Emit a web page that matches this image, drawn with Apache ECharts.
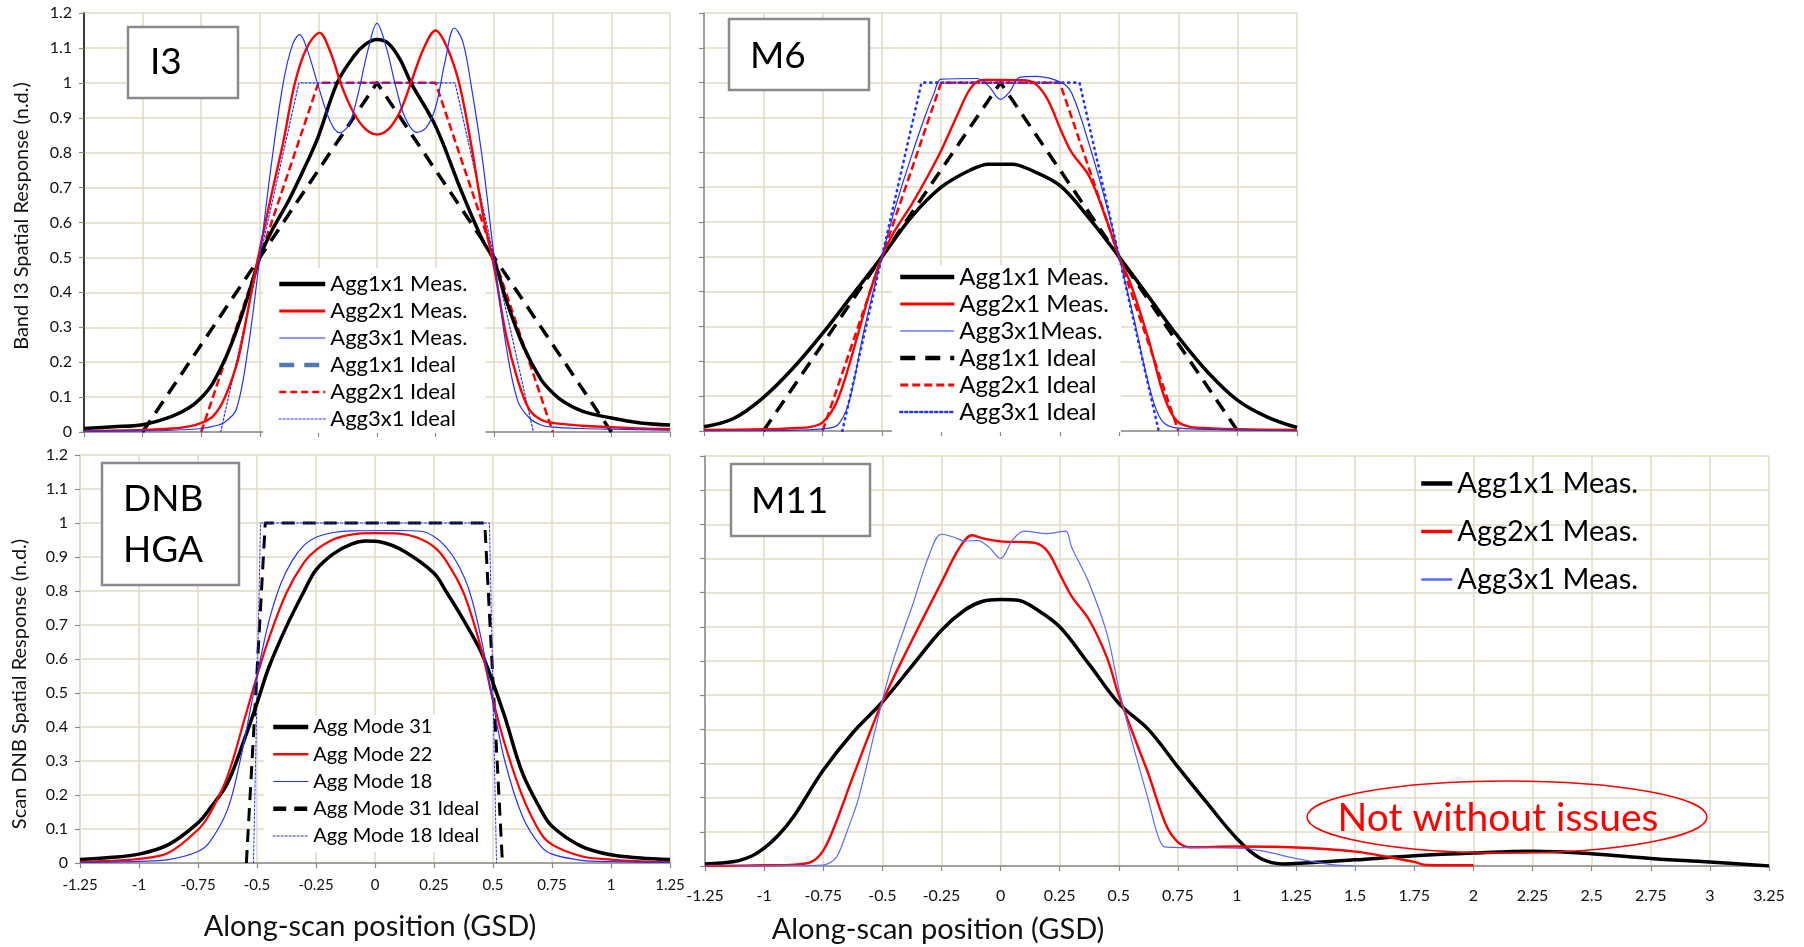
<!DOCTYPE html>
<html>
<head>
<meta charset="utf-8">
<title>Spatial response by aggregation mode</title>
<script src="https://cdn.jsdelivr.net/npm/echarts@6/dist/echarts.min.js"></script>
<style>
  html, body { margin: 0; padding: 0; background: #ffffff; }
  #chart { width: 1804px; height: 947px; }
</style>
</head>
<body>
<div id="chart"></div>
<script>
// ---- Axis ranges and ticks -------------------------------------------------
const X_MIN = -1.25, X_MAX = 1.25, X_MAX_M11 = 3.25, X_STEP = 0.25;
const Y_MIN = 0, Y_MAX = 1.2, Y_STEP = 0.1;

// ---- Panel texts -----------------------------------------------------------
const panelTags = ['I3', 'M6', 'DNB\nHGA', 'M11'];
const xTitle = 'Along-scan position (GSD)';
const yTitleI3 = 'Band I3 Spatial Response (n.d.)';
const yTitleDNB = 'Scan DNB Spatial Response (n.d.)';
const noteText = 'Not without issues';

// ---- Band I3: [position (GSD), response] -----------------------------------
const i3Agg1Meas = [[-1.25,0.01],[-1.125,0.015],[-1.0,0.021],[-0.875,0.045],[-0.8,0.07],[-0.75,0.098],[-0.7,0.14],[-0.625,0.245],[-0.55,0.39],[-0.5,0.5],[-0.45,0.575],[-0.375,0.665],[-0.3,0.77],[-0.25,0.847],[-0.17,1.0],[-0.1,1.075],[-0.05,1.11],[0,1.124],[0.05,1.112],[0.1,1.065],[0.145,1.0],[0.25,0.876],[0.36,0.69],[0.45,0.55],[0.5,0.49],[0.55,0.38],[0.625,0.245],[0.7,0.15],[0.75,0.112],[0.8,0.085],[0.875,0.06],[1.0,0.04],[1.125,0.026],[1.25,0.02]];
const i3Agg2Meas = [[-1.25,0.003],[-1.0,0.006],[-0.875,0.01],[-0.8,0.016],[-0.75,0.026],[-0.7,0.045],[-0.655,0.09],[-0.6,0.19],[-0.57,0.28],[-0.516,0.47],[-0.45,0.68],[-0.4,0.83],[-0.35,1.0],[-0.3,1.1],[-0.245,1.143],[-0.2,1.09],[-0.15,0.99],[-0.1,0.915],[-0.05,0.868],[0,0.852],[0.05,0.868],[0.1,0.92],[0.15,1.01],[0.2,1.1],[0.25,1.15],[0.3,1.1],[0.35,1.0],[0.4,0.83],[0.45,0.63],[0.5,0.47],[0.55,0.28],[0.6,0.15],[0.65,0.064],[0.7,0.035],[0.75,0.026],[0.875,0.018],[1.0,0.014],[1.125,0.01],[1.25,0.008]];
const i3Agg3Meas = [[-1.25,0.002],[-1.0,0.003],[-0.875,0.005],[-0.75,0.01],[-0.7,0.016],[-0.65,0.028],[-0.6,0.065],[-0.55,0.24],[-0.5,0.5],[-0.45,0.77],[-0.4,1.0],[-0.36,1.11],[-0.33,1.138],[-0.3,1.1],[-0.25,0.99],[-0.2,0.89],[-0.16,0.857],[-0.12,0.88],[-0.08,0.97],[-0.04,1.09],[0,1.17],[0.04,1.1],[0.08,0.99],[0.12,0.9],[0.17,0.858],[0.21,0.872],[0.25,0.93],[0.29,1.06],[0.33,1.157],[0.365,1.12],[0.4,1.0],[0.45,0.78],[0.5,0.5],[0.55,0.25],[0.6,0.09],[0.65,0.04],[0.7,0.02],[0.75,0.014],[0.875,0.01],[1.0,0.008],[1.25,0.005]];
const agg1Ideal = [[-1.0,0],[0,1],[1.0,0]];
const agg2Ideal = [[-0.75,0],[-0.25,1],[0.25,1],[0.75,0]];
const agg3Ideal = [[-0.667,0],[-0.333,1],[0.333,1],[0.667,0]];

// ---- Band M6 ---------------------------------------------------------------
const m6Agg1Meas = [[-1.25,0.012],[-1.125,0.036],[-1.0,0.096],[-0.875,0.18],[-0.75,0.28],[-0.625,0.39],[-0.5,0.5],[-0.375,0.615],[-0.25,0.7],[-0.125,0.75],[-0.05,0.766],[0.05,0.766],[0.125,0.75],[0.25,0.705],[0.375,0.61],[0.5,0.5],[0.625,0.385],[0.75,0.27],[0.875,0.168],[1.0,0.088],[1.125,0.04],[1.25,0.01]];
const m6Agg2Meas = [[-1.25,0.003],[-1.0,0.005],[-0.875,0.008],[-0.8,0.012],[-0.75,0.025],[-0.7,0.07],[-0.66,0.14],[-0.6,0.28],[-0.55,0.4],[-0.5,0.5],[-0.45,0.57],[-0.375,0.65],[-0.3,0.74],[-0.25,0.805],[-0.18,0.91],[-0.125,0.985],[-0.075,1.008],[0,1.008],[0.1,1.007],[0.15,0.995],[0.2,0.95],[0.257,0.86],[0.3,0.8],[0.375,0.73],[0.45,0.6],[0.5,0.5],[0.55,0.42],[0.625,0.26],[0.68,0.12],[0.715,0.058],[0.75,0.025],[0.8,0.012],[0.875,0.008],[1.0,0.005],[1.25,0.003]];
const m6Agg3Meas = [[-1.25,0.0],[-0.875,0.002],[-0.75,0.006],[-0.7,0.012],[-0.68,0.022],[-0.65,0.06],[-0.625,0.12],[-0.575,0.29],[-0.5,0.5],[-0.44,0.65],[-0.375,0.79],[-0.32,0.9],[-0.28,0.97],[-0.25,1.01],[-0.1,1.012],[-0.05,0.99],[0,0.952],[0.04,0.975],[0.08,1.015],[0.15,1.018],[0.257,1.0],[0.3,0.97],[0.375,0.82],[0.45,0.64],[0.5,0.5],[0.56,0.33],[0.63,0.12],[0.68,0.03],[0.75,0.008],[1.0,0.003],[1.25,0.0]];

// ---- DNB HGA ---------------------------------------------------------------
const dnbMode31 = [[-1.25,0.01],[-1.125,0.016],[-1.0,0.026],[-0.875,0.054],[-0.75,0.118],[-0.7,0.16],[-0.625,0.235],[-0.55,0.37],[-0.5,0.47],[-0.45,0.575],[-0.375,0.696],[-0.3,0.8],[-0.25,0.862],[-0.175,0.91],[-0.1,0.938],[-0.04,0.947],[0.025,0.944],[0.125,0.916],[0.25,0.852],[0.3,0.8],[0.375,0.715],[0.45,0.62],[0.5,0.53],[0.55,0.43],[0.625,0.264],[0.7,0.16],[0.75,0.108],[0.875,0.049],[1.0,0.024],[1.125,0.015],[1.25,0.01]];
const dnbMode22 = [[-1.25,0.003],[-1.125,0.006],[-1.0,0.012],[-0.875,0.03],[-0.75,0.098],[-0.7,0.145],[-0.625,0.255],[-0.55,0.43],[-0.5,0.55],[-0.45,0.66],[-0.375,0.795],[-0.3,0.885],[-0.25,0.92],[-0.175,0.952],[-0.1,0.966],[0,0.97],[0.1,0.969],[0.175,0.958],[0.25,0.93],[0.3,0.89],[0.375,0.795],[0.45,0.63],[0.5,0.48],[0.55,0.35],[0.625,0.196],[0.7,0.09],[0.75,0.054],[0.875,0.02],[1.0,0.01],[1.125,0.005],[1.25,0.003]];
const dnbMode18 = [[-1.25,0.002],[-1.0,0.005],[-0.875,0.01],[-0.75,0.034],[-0.7,0.062],[-0.625,0.157],[-0.575,0.29],[-0.5,0.55],[-0.45,0.71],[-0.4,0.82],[-0.35,0.89],[-0.3,0.935],[-0.25,0.958],[-0.175,0.972],[-0.1,0.977],[0.1,0.978],[0.2,0.975],[0.25,0.96],[0.3,0.93],[0.35,0.88],[0.4,0.8],[0.45,0.66],[0.5,0.47],[0.55,0.3],[0.625,0.137],[0.7,0.052],[0.75,0.026],[0.875,0.008],[1.0,0.004],[1.25,0.002]];
const dnbMode31Ideal = [[-0.545,0],[-0.465,1],[0.465,1],[0.54,0]];
const dnbMode18Ideal = [[-0.515,0],[-0.485,1],[0.485,1],[0.515,0]];

// ---- Band M11 --------------------------------------------------------------
const m11Agg1Meas = [[-1.25,0.006],[-1.125,0.013],[-1.05,0.03],[-1.0,0.052],[-0.94,0.09],[-0.875,0.145],[-0.75,0.28],[-0.625,0.39],[-0.5,0.48],[-0.375,0.585],[-0.25,0.69],[-0.15,0.75],[-0.075,0.775],[0,0.78],[0.075,0.778],[0.15,0.752],[0.25,0.7],[0.375,0.59],[0.5,0.476],[0.625,0.4],[0.75,0.29],[0.875,0.183],[1.0,0.08],[1.1,0.022],[1.2,0.006],[1.25,0.007],[1.5,0.018],[1.75,0.03],[2.0,0.038],[2.25,0.043],[2.5,0.036],[2.75,0.022],[3.0,0.012],[3.25,0.0]];
const m11Agg2Meas = [[-1.25,0.0],[-1.0,0.002],[-0.875,0.004],[-0.8,0.012],[-0.75,0.045],[-0.7,0.12],[-0.625,0.26],[-0.5,0.48],[-0.375,0.66],[-0.25,0.83],[-0.175,0.93],[-0.12,0.968],[-0.07,0.958],[0,0.95],[0.1,0.948],[0.15,0.945],[0.2,0.92],[0.25,0.855],[0.3,0.79],[0.375,0.72],[0.45,0.61],[0.5,0.5],[0.575,0.36],[0.625,0.27],[0.7,0.12],[0.75,0.07],[0.8,0.055],[1.0,0.057],[1.25,0.054],[1.5,0.042],[1.65,0.025],[1.75,0.012],[1.8,0.003],[2.0,0.002]];
const m11Agg3Meas = [[-1.25,0.0],[-0.9,0.001],[-0.75,0.003],[-0.72,0.01],[-0.69,0.03],[-0.65,0.1],[-0.6,0.2],[-0.5,0.485],[-0.45,0.61],[-0.375,0.758],[-0.3,0.914],[-0.25,0.971],[-0.2,0.963],[-0.15,0.951],[-0.1,0.953],[-0.05,0.934],[0,0.9],[0.05,0.953],[0.1,0.98],[0.2,0.973],[0.275,0.98],[0.3,0.934],[0.375,0.827],[0.45,0.68],[0.5,0.52],[0.55,0.38],[0.625,0.193],[0.67,0.08],[0.7,0.055],[1.0,0.052],[1.1,0.045],[1.25,0.022],[1.4,0.004],[1.5,0.0]];

// ---- Styling ---------------------------------------------------------------
const FONT = 'Lato, "Open Sans", "DejaVu Sans", sans-serif';
const BLACK = '#000000', RED = '#ff0000', BLUE = '#2233ff', BLUE_LIGHT = '#5a6aff';
const GRID_COLOR = '#e0dbc5', AXIS_GRAY = '#8a8a8a';

const grids = [
  { left: 84,  top: 13,  width: 586,  height: 419 },   // I3
  { left: 704, top: 13,  width: 593,  height: 418 },   // M6
  { left: 80,  top: 455, width: 590,  height: 408 },   // DNB
  { left: 705, top: 456, width: 1064, height: 410 }    // M11
];

function xAxisFor(i, max, showLabels, labelMargin, labelSize, namePadRight) {
  return {
    gridIndex: i, type: 'value', min: X_MIN, max: max, interval: X_STEP,
    axisLine: { show: true, onZero: false, lineStyle: { color: AXIS_GRAY, width: 1.5 } },
    axisTick: { show: true, inside: false, length: 5, lineStyle: { color: AXIS_GRAY, width: 1.2 } },
    axisLabel: { show: showLabels, margin: labelMargin, color: '#111', fontFamily: FONT, fontSize: labelSize },
    splitLine: { show: true, lineStyle: { color: GRID_COLOR, width: 1.5 } },
    name: showLabels ? xTitle : '',
    nameLocation: 'middle', nameGap: 49,
    nameTextStyle: { fontFamily: FONT, fontSize: 29, color: '#111', padding: [0, namePadRight || 0, 0, 0] }
  };
}

function yAxisFor(i, showLabels, lineColor) {
  return {
    gridIndex: i, type: 'value', min: Y_MIN, max: Y_MAX, interval: Y_STEP,
    axisLine: { show: true, onZero: false, lineStyle: { color: lineColor, width: 1.5 } },
    axisTick: { show: true, inside: false, length: 5, lineStyle: { color: AXIS_GRAY, width: 1.2 } },
    axisLabel: { show: showLabels, margin: 12, color: '#111', fontFamily: FONT, fontSize: 16 },
    splitLine: { show: true, lineStyle: { color: GRID_COLOR, width: 1.5 } }
  };
}

function curve(panel, label, data, gi, color, width, dash, smooth, z) {
  return {
    type: 'line', name: panel + ':' + label, data: data,
    xAxisIndex: gi, yAxisIndex: gi,
    symbol: 'none', showSymbol: false, silent: true,
    smooth: smooth ? 0.35 : false,
    lineStyle: { color: color, width: width, type: dash || 'solid', cap: dash && dash[0] <= 3 ? 'round' : 'butt', join: 'round' },
    itemStyle: { color: color },
    z: z || 2, animation: false
  };
}

function legendItem(panel, label, color, width, dash) {
  return { name: panel + ':' + label, lineStyle: { color: color, width: width, type: dash || 'solid', opacity: 1 },
           itemStyle: { opacity: 0, borderWidth: 0 } };
}

function legendBox(left, top, padding, itemWidth, fontSize, lineHeight, gap, items, bg) {
  return {
    orient: 'vertical', left: left, top: top, padding: padding,
    itemWidth: itemWidth, itemHeight: 12, itemGap: gap,
    backgroundColor: bg ? '#ffffff' : 'transparent',
    selectedMode: false,
    textStyle: { fontFamily: FONT, fontSize: fontSize, lineHeight: lineHeight, color: '#000' },
    itemStyle: { opacity: 0, borderWidth: 0 },
    formatter: function (n) { return n.slice(n.indexOf(':') + 1); },
    data: items
  };
}

const series = [
  // I3
  curve('i3', 'Agg1x1 Ideal', agg1Ideal, 0, BLACK, 3.5, [14, 9], false, 3),
  curve('i3', 'Agg2x1 Ideal', agg2Ideal, 0, RED, 2.5, [8, 4], false, 3),
  curve('i3', 'Agg3x1 Ideal', agg3Ideal, 0, BLUE, 1.2, [2, 2], false, 3),
  curve('i3', 'Agg1x1 Meas.', i3Agg1Meas, 0, BLACK, 3.5, null, true, 4),
  curve('i3', 'Agg2x1 Meas.', i3Agg2Meas, 0, RED, 2.4, null, true, 4),
  curve('i3', 'Agg3x1 Meas.', i3Agg3Meas, 0, BLUE, 1.2, null, true, 4),
  // M6
  curve('m6', 'Agg1x1 Ideal', agg1Ideal, 1, BLACK, 3.5, [14, 9], false, 3),
  curve('m6', 'Agg2x1 Ideal', agg2Ideal, 1, RED, 2.5, [8, 4], false, 3),
  curve('m6', 'Agg3x1 Ideal', agg3Ideal, 1, BLUE, 2.6, [1, 5], false, 3),
  curve('m6', 'Agg1x1 Meas.', m6Agg1Meas, 1, BLACK, 3.5, null, true, 4),
  curve('m6', 'Agg2x1 Meas.', m6Agg2Meas, 1, RED, 2.4, null, true, 4),
  curve('m6', 'Agg3x1Meas.', m6Agg3Meas, 1, BLUE, 1.2, null, true, 4),
  // DNB
  curve('dnb', 'Agg Mode 31 Ideal', dnbMode31Ideal, 2, BLACK, 3, [13, 8], false, 3),
  curve('dnb', 'Agg Mode 18 Ideal', dnbMode18Ideal, 2, BLUE, 1, [2, 2], false, 3),
  curve('dnb', 'Agg Mode 31', dnbMode31, 2, BLACK, 3.5, null, true, 4),
  curve('dnb', 'Agg Mode 22', dnbMode22, 2, RED, 2.2, null, true, 4),
  curve('dnb', 'Agg Mode 18', dnbMode18, 2, BLUE, 1.2, null, true, 4),
  // M11
  curve('m11', 'Agg1x1 Meas.', m11Agg1Meas, 3, BLACK, 3.5, null, true, 4),
  curve('m11', 'Agg2x1 Meas.', m11Agg2Meas, 3, RED, 2.4, null, true, 4),
  curve('m11', 'Agg3x1 Meas.', m11Agg3Meas, 3, BLUE_LIGHT, 1.2, null, true, 4)
];

const legends = [
  legendBox(263, 268, [5, 18, 3, 14], 46, 22, 22, 5, [
    legendItem('i3', 'Agg1x1 Meas.', BLACK, 4.5),
    legendItem('i3', 'Agg2x1 Meas.', RED, 3),
    legendItem('i3', 'Agg3x1 Meas.', BLUE, 1.2),
    legendItem('i3', 'Agg1x1 Ideal', '#4f7bb5', 4.5, [15, 10]),
    legendItem('i3', 'Agg2x1 Ideal', RED, 2.5, [7, 4]),
    legendItem('i3', 'Agg3x1 Ideal', BLUE, 1.2, [2, 2])
  ], true),
  legendBox(892, 265, [0, 12, 8, 6], 54, 24, 24, 3, [
    legendItem('m6', 'Agg1x1 Meas.', BLACK, 4.5),
    legendItem('m6', 'Agg2x1 Meas.', RED, 3),
    legendItem('m6', 'Agg3x1Meas.', BLUE, 1.2),
    legendItem('m6', 'Agg1x1 Ideal', BLACK, 4.5, [15, 10]),
    legendItem('m6', 'Agg2x1 Ideal', RED, 3, [8, 4]),
    legendItem('m6', 'Agg3x1 Ideal', BLUE, 2.5, [2, 3])
  ], true),
  legendBox(264, 715, [2, 12, 6, 7], 35, 20, 20, 7.25, [
    legendItem('dnb', 'Agg Mode 31', BLACK, 4.5),
    legendItem('dnb', 'Agg Mode 22', RED, 2.5),
    legendItem('dnb', 'Agg Mode 18', BLUE, 1.2),
    legendItem('dnb', 'Agg Mode 31 Ideal', BLACK, 4.5, [13, 8]),
    legendItem('dnb', 'Agg Mode 18 Ideal', BLUE, 1.2, [2, 2])
  ], true),
  legendBox(1419, 469, [0, 0, 0, 0], 31, 29, 29, 19, [
    legendItem('m11', 'Agg1x1 Meas.', BLACK, 4.5),
    legendItem('m11', 'Agg2x1 Meas.', RED, 3.5),
    legendItem('m11', 'Agg3x1 Meas.', BLUE_LIGHT, 2.5)
  ], false)
];

// Panel tag boxes, vertical axis titles, the M11 note and its ellipse
function tagBox(x, y, w, h) {
  return { type: 'rect', z: 100, shape: { x: x, y: y, width: w, height: h },
           style: { fill: '#ffffff', stroke: '#8a8a8a', lineWidth: 2.5 } };
}
function tagText(text, x, y) {
  return { type: 'text', z: 101, x: x, y: y,
           style: { text: text, fill: '#000', font: '37px ' + FONT, textVerticalAlign: 'middle', textAlign: 'left' } };
}
function yTitle(text, x, y) {
  return { type: 'text', z: 101, x: x, y: y, rotation: Math.PI / 2,
           style: { text: text, fill: '#111', font: '20px ' + FONT, textAlign: 'center', textVerticalAlign: 'middle' } };
}
const dnbLines = panelTags[2].split('\n');
const graphics = [
  tagBox(128, 27, 110, 71),  tagText(panelTags[0], 150, 62),
  tagBox(729, 19, 140, 71),  tagText(panelTags[1], 750, 56),
  tagBox(102, 463, 137, 122), tagText(dnbLines[0], 123, 499), tagText(dnbLines[1], 123, 550),
  tagBox(731, 464, 139, 72), tagText(panelTags[3], 751, 501),
  yTitle(yTitleI3, 22, 216),
  yTitle(yTitleDNB, 20, 684),
  { type: 'ellipse', z: 100, shape: { cx: 1507, cy: 817, rx: 200, ry: 36 },
    style: { fill: 'none', stroke: RED, lineWidth: 1.5 } },
  { type: 'text', z: 101, x: 1498, y: 818,
    style: { text: noteText, fill: RED, font: '39px ' + FONT, textAlign: 'center', textVerticalAlign: 'middle' } }
];

const chart = echarts.init(document.getElementById('chart'), null, { renderer: 'canvas' });
chart.setOption({
  backgroundColor: '#ffffff',
  animation: false,
  grid: grids,
  xAxis: [
    xAxisFor(0, X_MAX, false, 8, 15),
    xAxisFor(1, X_MAX, false, 8, 15),
    xAxisFor(2, X_MAX, true, 15, 15, 10),
    xAxisFor(3, X_MAX_M11, true, 22, 16, 598)
  ],
  yAxis: [
    yAxisFor(0, true, '#000000'),
    yAxisFor(1, false, AXIS_GRAY),
    yAxisFor(2, true, GRID_COLOR),
    yAxisFor(3, false, AXIS_GRAY)
  ],
  legend: legends,
  series: series,
  graphic: { elements: graphics }
});
</script>
</body>
</html>
